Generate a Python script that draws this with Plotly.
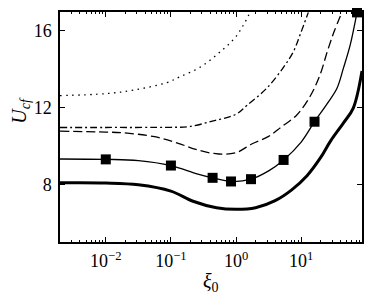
import plotly.graph_objects as go

# log10(xi0) positions and U_cf values
thick_logx = [-2.703, -2.0, -1.5, -1.0, -0.66, -0.3, 0.0, 0.3, 0.6, 0.85, 1.09, 1.3, 1.45, 1.65, 1.8, 1.934]
thick_y    = [8.08, 8.07, 7.98, 7.65, 7.12, 6.78, 6.70, 6.78, 7.15, 7.70, 8.45, 9.40, 10.25, 11.2, 11.97, 13.9]

thin_logx = [-2.703, -2.0, -1.5, -1.0, -0.6, -0.36, -0.077, 0.23, 0.5, 0.73, 1.0, 1.205, 1.4, 1.55, 1.65, 1.754, 1.857]
thin_y    = [9.32, 9.30, 9.24, 8.98, 8.55, 8.34, 8.15, 8.27, 8.70, 9.27, 10.2, 11.26, 12.2, 13.0, 14.06, 15.27, 16.95]

marker_logx = [-2.0, -1.0, -0.36, -0.077, 0.23, 0.73, 1.205, 1.857]
marker_y    = [9.30, 8.98, 8.34, 8.15, 8.27, 9.27, 11.26, 16.95]

dash_logx = [-2.703, -2.0, -1.76, -1.25, -0.9, -0.6, -0.27, 0.0, 0.24, 0.5, 0.7, 0.93, 1.14, 1.29, 1.40, 1.50, 1.626]
dash_y    = [10.77, 10.72, 10.69, 10.48, 10.15, 9.80, 9.58, 9.65, 10.1, 10.5, 11.0, 11.6, 12.6, 13.7, 14.9, 15.9, 16.95]

dashdot_logx = [-2.703, -2.0, -1.0, -0.73, -0.35, 0.0, 0.165, 0.47, 0.73, 0.88, 0.985, 1.11]
dashdot_y    = [10.96, 10.96, 10.97, 11.0, 11.3, 11.65, 12.1, 13.0, 14.1, 14.9, 15.8, 16.95]

dot_logx = [-2.703, -2.0, -1.58, -1.06, -0.86, -0.55, -0.25, 0.01, 0.215]
dot_y    = [12.62, 12.72, 12.9, 13.3, 13.6, 14.1, 14.88, 15.74, 16.95]

tick_vals = [0.01, 0.1, 1, 10]
tick_text = ["10<sup>−2</sup>", "10<sup>−1</sup>", "10<sup>0</sup>", "10<sup>1</sup>"]
minor_vals = [0.002, 0.003, 0.004, 0.005, 0.006, 0.007, 0.008, 0.009,
              0.02, 0.03, 0.04, 0.05, 0.06, 0.07, 0.08, 0.09,
              0.2, 0.3, 0.4, 0.5, 0.6, 0.7, 0.8, 0.9,
              2, 3, 4, 5, 6, 7, 8, 9,
              20, 30, 40, 50, 60, 70, 80]
y_ticks = [8, 12, 16]
x_title = "<i>ξ</i><sub>0</sub>"
y_title = "<i>U</i><sub><i>cf</i></sub>"

def tx(v):
    return [10 ** a for a in v]

fig = go.Figure()
fig.add_trace(go.Scatter(x=tx(dot_logx), y=dot_y, mode="lines", line=dict(color="black", width=1.3, dash="1.5px,4.5px", shape="spline")))
fig.add_trace(go.Scatter(x=tx(dashdot_logx), y=dashdot_y, mode="lines", line=dict(color="black", width=1.3, dash="7px,3px,2px,3px", shape="spline")))
fig.add_trace(go.Scatter(x=tx(dash_logx), y=dash_y, mode="lines", line=dict(color="black", width=1.3, dash="9px,4px", shape="spline")))
fig.add_trace(go.Scatter(x=tx(thin_logx), y=thin_y, mode="lines", line=dict(color="black", width=1.3, shape="spline")))
fig.add_trace(go.Scatter(x=tx(marker_logx), y=marker_y, mode="markers", marker=dict(symbol="square", size=10, color="black"), cliponaxis=False))
fig.add_trace(go.Scatter(x=tx(thick_logx), y=thick_y, mode="lines", line=dict(color="black", width=3, shape="spline")))

serif = "Liberation Serif"
tickfont = dict(family=serif, size=18, color="black")

# page body has an 8px default margin, so the figure is 8px smaller each way
fig.update_layout(
    width=366, height=289,
    margin=dict(l=52, r=12, t=4, b=55, autoexpand=False),
    paper_bgcolor="white", plot_bgcolor="white",
    showlegend=False,
    font=dict(family=serif, size=18, color="black"),
    xaxis=dict(
        type="log", range=[-2.703, 1.934], automargin=False,
        tickmode="array", tickvals=tick_vals, ticktext=tick_text, tickfont=tickfont,
        ticks="inside", ticklen=5, tickcolor="black", tickwidth=1,
        minor=dict(tickmode="array", tickvals=minor_vals, ticks="inside", ticklen=2.5,
                   tickcolor="black", tickwidth=1, showgrid=False),
        showline=True, linecolor="black", linewidth=1.5, mirror="allticks",
        showgrid=False, zeroline=False,
        ticklabelstandoff=2,
    ),
    yaxis=dict(
        range=[5.0, 16.97], automargin=False,
        tickvals=y_ticks, tickfont=tickfont,
        ticks="inside", ticklen=5, tickcolor="black", tickwidth=1,
        showline=True, linecolor="black", linewidth=1.5, mirror="allticks",
        showgrid=False, zeroline=False,
        ticklabelstandoff=3,
    ),
    annotations=[
        dict(text=x_title, xref="paper", yref="paper", x=0.5, y=-0.178,
             xanchor="center", yanchor="middle", showarrow=False,
             font=dict(family=serif, size=20, color="black")),
        dict(text=y_title, xref="paper", yref="paper", x=-0.13, y=0.574,
             xanchor="center", yanchor="middle", showarrow=False, textangle=-90,
             font=dict(family=serif, size=20, color="black")),
    ],
)

fig.write_html("out.html")
